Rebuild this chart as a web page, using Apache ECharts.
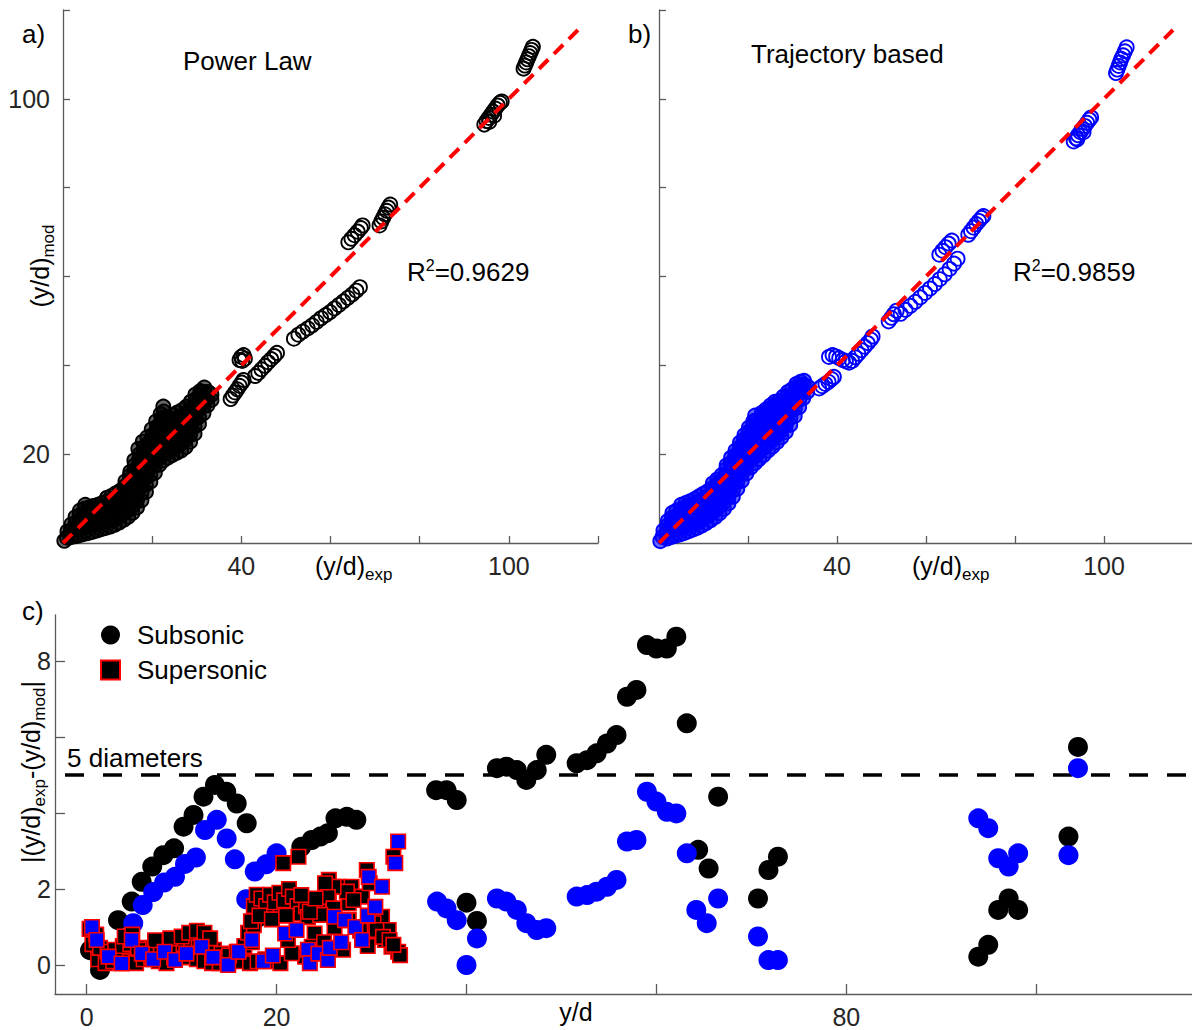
<!DOCTYPE html>
<html>
<head>
<meta charset="utf-8">
<title>Penetration model comparison</title>
<script src="https://cdn.jsdelivr.net/npm/echarts@6/dist/echarts.min.js"></script>
<style>
  html, body { margin: 0; padding: 0; background: #ffffff; }
  #chart { width: 1192px; height: 1030px; }
</style>
</head>
<body>
<div id="chart"></div>
<script>
// ---------- (a) power-law model: [(y/d)exp, (y/d)mod] ----------
const powerLawNear = [
  [0.3,0.5],[0.9,1.2],[1.0,2.6],
  [1.8,1.3],[1.8,2.8],[1.9,4.2],
  [2.7,1.5],[2.7,3.0],[2.8,4.5],[2.8,5.8],
  [3.6,1.7],[3.6,3.2],[3.7,4.7],[3.7,6.2],[3.8,7.3],
  [4.6,2.0],[4.6,3.5],[4.6,5.0],[4.7,6.5],[4.8,7.7],[5.0,8.6],
  [5.6,2.2],[5.6,3.7],[5.6,5.2],[5.7,6.7],[5.8,8.0],
  [6.6,2.5],[6.6,4.0],[6.6,5.5],[6.7,7.0],[6.8,8.3],
  [7.6,2.8],[7.6,4.3],[7.6,5.8],[7.7,7.3],[7.8,8.6],
  [8.6,3.1],[8.6,4.6],[8.6,6.1],[8.7,7.6],[8.8,9.0],
  [9.6,3.4],[9.6,4.9],[9.6,6.4],[9.7,7.9],[9.8,9.3],[9.9,10.2],
  [10.6,3.7],[10.6,5.2],[10.6,6.7],[10.7,8.2],[10.8,9.6],[10.9,10.6],
  [11.6,4.1],[11.6,5.6],[11.6,7.1],[11.7,8.6],[11.8,10.0],[11.9,11.2],
  [12.6,4.6],[12.6,6.1],[12.6,7.6],[12.7,9.1],[12.8,10.6],[12.9,11.8],
  [13.6,5.2],[13.6,6.7],[13.6,8.2],[13.7,9.8],[13.8,11.3],[13.9,12.8],[14.0,13.9],
  [14.6,5.9],[14.6,7.4],[14.6,9.0],[14.7,10.6],[14.8,12.2],[14.9,13.7],[15.0,15.1],[15.1,16.0],
  [15.6,6.8],[15.6,8.3],[15.6,9.9],[15.7,11.5],[15.8,13.1],[15.9,14.7],[16.0,16.3],[16.1,17.5],[16.0,18.6],
  [16.6,8.0],[16.6,9.6],[16.6,11.2],[16.7,12.8],[16.8,14.4],[16.9,16.0],[17.0,17.6],[17.1,19.0],[17.2,20.0],[16.9,21.2],
  [17.6,9.6],[17.6,11.2],[17.6,12.8],[17.7,14.4],[17.8,16.0],[17.9,17.6],[18.0,19.2],[18.1,20.6],[18.2,21.6],[17.9,22.8],
  [18.6,11.5],[18.6,13.1],[18.6,14.7],[18.7,16.3],[18.8,17.9],[18.9,19.5],[19.0,21.1],[19.1,22.4],[18.9,23.8],
  [19.6,13.8],[19.6,15.4],[19.6,17.0],[19.7,18.6],[19.8,20.2],[19.9,21.8],[20.0,23.3],[20.1,24.3],[19.9,25.6],
  [20.6,15.8],[20.6,17.4],[20.6,19.0],[20.7,20.6],[20.8,22.2],[20.9,23.8],[21.0,25.3],[21.1,26.2],[20.9,27.4],
  [21.6,17.6],[21.6,19.2],[21.6,20.8],[21.7,22.4],[21.8,24.0],[21.9,25.6],[22.0,27.0],[22.1,28.0],[21.9,29.0],
  [22.5,18.6],[22.5,20.2],[22.5,21.8],[22.6,23.4],[22.7,25.0],[22.8,26.6],[22.7,28.2],[22.6,29.6],[22.5,30.7],
  [23.5,19.2],[23.5,20.8],[23.5,22.4],[23.6,24.0],[23.7,25.6],[23.8,27.0],[23.6,28.3],
  [24.5,19.8],[24.5,21.4],[24.5,23.0],[24.6,24.6],[24.7,26.2],[24.8,27.6],[24.7,28.8],
  [25.5,20.3],[25.5,21.9],[25.5,23.5],[25.6,25.1],[25.7,26.7],[25.8,28.1],[25.7,29.4],
  [26.5,20.8],[26.5,22.4],[26.5,24.0],[26.6,25.6],[26.7,27.2],[26.8,28.6],[26.7,29.9],
  [27.5,21.6],[27.5,23.2],[27.5,24.8],[27.6,26.4],[27.7,28.0],[27.8,29.4],[27.7,30.7],
  [28.5,22.8],[28.5,24.4],[28.5,26.0],[28.6,27.6],[28.7,29.2],[28.8,30.6],[28.7,31.8],
  [29.5,24.6],[29.5,26.2],[29.5,27.8],[29.6,29.4],[29.7,31.0],[29.8,32.4],[29.7,33.4],
  [30.5,26.8],[30.5,28.4],[30.5,30.0],[30.6,31.6],[30.7,33.2],[30.8,34.2],
  [31.5,29.2],[31.5,30.8],[31.5,32.4],[31.6,34.0],[31.7,35.0],
  [32.4,31.0],[32.4,32.6],[32.5,34.0],
  [33.3,32.2],[33.3,33.4]
];
const powerLawFar = [
  [37.6,32.4],[38.1,33.2],[38.6,33.9],[39.1,34.6],[39.6,35.4],[40.1,36.1],[40.5,36.7],
  [39.6,41.2],[40.0,41.9],[40.5,42.3],[40.8,41.5],[40.2,41.0],
  [43.1,37.6],[43.8,38.3],[44.5,39.1],[45.3,39.9],[46.0,40.7],[46.7,41.4],[47.4,42.1],[48.0,42.8],
  [51.8,46.0],[52.8,46.9],[53.8,47.6],[54.9,48.3],[55.9,49.0],[56.9,49.8],[57.9,50.6],[58.9,51.3],
  [59.9,52.0],[60.9,52.8],[61.9,53.6],[62.9,54.4],[63.9,55.2],[64.9,56.0],[65.8,56.8],[66.6,57.6],
  [64.0,67.7],[64.7,68.5],[65.4,69.3],[66.1,70.1],[66.8,70.9],[67.2,71.5],
  [71.0,71.5],[71.4,72.4],[71.8,73.2],[72.2,74.0],[72.6,74.8],[73.0,75.5],[73.4,76.2],
  [94.5,94.2],[95.0,95.0],[95.5,95.7],[96.0,96.4],[96.5,97.1],[97.0,97.8],[97.5,98.5],[98.0,99.1],
  [98.4,99.4],[95.6,94.8],[96.7,96.2],
  [103.3,106.8],[103.6,107.5],[103.9,108.2],[104.2,108.9],[104.5,109.6],[104.8,110.3],[105.1,111.0],[105.4,111.7]
];

// ---------- (b) trajectory-based model ----------
const trajectoryNear = [
  [0.3,0.4],[0.8,1.4],[1.0,2.8],
  [1.8,1.0],[1.8,2.4],[1.9,3.9],[2.0,5.0],
  [2.7,1.3],[2.7,2.8],[2.8,4.3],[2.9,5.7],[3.0,6.8],
  [3.6,1.6],[3.6,3.1],[3.7,4.6],[3.8,6.0],[3.9,7.3],
  [4.6,1.9],[4.6,3.4],[4.7,4.9],[4.8,6.3],[4.9,7.6],[5.0,8.6],
  [5.6,2.2],[5.6,3.7],[5.7,5.2],[5.8,6.6],[5.9,8.0],[6.0,9.0],
  [6.6,2.6],[6.6,4.1],[6.7,5.6],[6.8,7.0],[6.9,8.4],[7.0,9.4],
  [7.6,3.0],[7.6,4.5],[7.7,6.0],[7.8,7.4],[7.9,8.8],[8.0,9.9],
  [8.6,3.4],[8.6,4.9],[8.7,6.4],[8.8,7.8],[8.9,9.3],[9.0,10.5],
  [9.6,3.9],[9.6,5.4],[9.7,6.9],[9.8,8.3],[9.9,9.8],[10.0,11.1],
  [10.6,4.5],[10.6,6.0],[10.7,7.5],[10.8,9.0],[10.9,10.4],[11.0,11.7],
  [11.6,5.1],[11.6,6.6],[11.7,8.1],[11.8,9.6],[11.9,11.0],[12.0,12.4],[12.1,13.4],
  [12.6,5.8],[12.6,7.3],[12.7,8.8],[12.8,10.3],[12.9,11.7],[13.0,13.1],[13.1,14.3],
  [13.6,6.7],[13.6,8.2],[13.7,9.7],[13.8,11.2],[13.9,12.6],[14.0,14.0],[14.1,15.3],
  [14.6,7.7],[14.6,9.2],[14.7,10.7],[14.8,12.2],[14.9,13.7],[15.0,15.2],[15.1,16.6],[15.2,17.5],
  [15.6,8.9],[15.6,10.4],[15.7,11.9],[15.8,13.4],[15.9,15.0],[16.0,16.5],[16.1,18.0],[16.2,19.2],
  [16.6,10.4],[16.6,11.9],[16.7,13.4],[16.8,15.0],[16.9,16.6],[17.0,18.2],[17.1,19.7],[17.2,20.8],
  [17.6,12.2],[17.6,13.7],[17.7,15.2],[17.8,16.8],[17.9,18.4],[18.0,20.0],[18.1,21.5],[18.2,22.6],
  [18.6,14.0],[18.6,15.5],[18.7,17.0],[18.8,18.6],[18.9,20.2],[19.0,21.8],[19.1,23.3],[19.2,24.3],
  [19.6,15.6],[19.6,17.1],[19.7,18.7],[19.8,20.3],[19.9,21.9],[20.0,23.5],[20.1,25.0],[20.2,26.0],
  [20.6,17.0],[20.6,18.6],[20.7,20.2],[20.8,21.8],[20.9,23.4],[21.0,25.0],[21.1,26.5],[21.2,27.4],
  [21.6,18.0],[21.6,19.6],[21.7,21.2],[21.8,22.8],[21.9,24.4],[22.0,26.0],[21.8,27.6],[21.6,28.7],
  [22.5,18.9],[22.5,20.5],[22.6,22.1],[22.7,23.7],[22.8,25.3],[22.9,26.9],[23.0,28.4],[23.1,29.3],
  [23.5,19.8],[23.5,21.4],[23.6,23.0],[23.7,24.6],[23.8,26.2],[23.9,27.8],[24.0,29.3],[24.1,30.1],
  [24.5,20.8],[24.5,22.4],[24.6,24.0],[24.7,25.6],[24.8,27.2],[24.9,28.8],[25.0,30.2],[25.1,31.0],
  [25.5,21.7],[25.5,23.3],[25.6,24.9],[25.7,26.5],[25.8,28.1],[25.9,29.7],[26.0,31.0],[26.1,31.8],
  [26.5,22.7],[26.5,24.3],[26.6,25.9],[26.7,27.5],[26.8,29.1],[26.9,30.7],[27.0,32.0],
  [27.5,23.8],[27.5,25.4],[27.6,27.0],[27.7,28.6],[27.8,30.2],[27.9,31.8],[28.0,33.0],
  [28.5,25.0],[28.5,26.6],[28.6,28.2],[28.7,29.8],[28.8,31.4],[28.9,33.0],[29.0,34.0],
  [29.5,26.6],[29.5,28.2],[29.6,29.8],[29.7,31.4],[29.8,33.0],[29.9,34.6],
  [30.5,28.6],[30.5,30.2],[30.6,31.8],[30.7,33.4],[30.8,35.0],[30.9,35.8],
  [31.5,30.6],[31.5,32.2],[31.6,33.8],[31.7,35.3],[31.8,36.3],
  [32.4,32.6],[32.4,34.2],[32.5,35.6],[32.6,36.5],
  [33.3,34.0],[33.4,35.2]
];
const trajectoryFar = [
  [36.0,34.8],[36.7,35.3],[37.4,35.8],[38.1,36.3],[38.8,36.9],[39.3,37.4],
  [38.2,41.9],[39.0,42.3],[39.8,42.0],[40.5,41.6],[41.3,41.2],[42.0,40.9],[42.7,40.6],
  [43.4,41.0],[44.1,41.8],[44.8,42.6],[45.5,43.4],[46.2,44.2],[46.9,45.0],[47.6,45.8],[48.0,46.5],
  [51.6,49.9],[52.2,50.7],[52.8,51.5],[53.4,52.3],
  [54.3,51.6],[55.4,52.5],[56.5,53.4],[57.6,54.3],[58.7,55.3],[59.8,56.3],[60.9,57.3],
  [62.0,58.3],[63.1,59.4],[64.2,60.5],[65.3,61.7],[66.3,62.9],[67.1,64.0],
  [63.0,64.9],[63.7,65.8],[64.4,66.6],[65.1,67.4],[65.8,68.1],
  [69.5,69.4],[70.1,70.2],[70.7,71.0],[71.3,71.8],[71.9,72.5],[72.5,73.2],[72.9,73.6],
  [93.2,90.4],[93.7,91.1],[94.2,91.8],[94.7,92.5],[95.2,93.2],[95.7,93.9],[96.2,94.6],[96.7,95.3],
  [97.1,95.8],[94.0,90.9],[95.4,92.5],
  [102.7,105.8],[103.0,106.6],[103.3,107.4],[103.6,108.2],[103.9,109.0],[104.3,109.8],[104.7,110.7],[105.1,111.6]
];

// perfect-agreement reference line y = x
const parityLine = [[0, 0], [115.5, 115.5]];

// ---------- (c) absolute error vs y/d ----------
const subsonicPowerLaw = [
  [0.35,0.39],[1.4,-0.13],[3.3,1.18],[4.74,1.67],[5.79,2.19],[6.9,2.59],[8.07,2.89],[9.2,3.07],
  [10.2,3.64],[11.25,3.95],[12.3,4.43],[13.5,4.74],[14.7,4.56],[15.8,4.25],[16.85,3.73],
  [17.9,1.23],[18.5,1.3],[19.9,1.35],
  [22.6,3.11],[23.7,3.29],[24.6,3.38],[25.4,3.47],[26.2,3.86],[27.4,3.9],[28.4,3.82],
  [36.8,4.6],[37.9,4.6],[38.97,4.34],[40.0,1.64],[41.1,1.16],
  [43.2,5.18],[44.2,5.22],[45.3,5.13],[46.3,4.87],[47.4,5.13],[48.4,5.53],
  [51.6,5.31],[52.7,5.39],[53.7,5.57],[54.8,5.83],[55.8,6.05],[56.9,7.06],[57.9,7.24],
  [59.0,8.42],[60.0,8.33],[61.1,8.33],[62.1,8.64],[63.2,6.36],[64.4,3.03],[65.5,2.54],[66.5,4.43],
  [70.7,1.75],[71.8,2.5],[72.8,2.85],
  [93.9,0.22],[94.95,0.53],[96.0,1.45],[97.1,1.75],[98.1,1.45],[103.4,3.38],[104.4,5.74]
];
const subsonicTrajectory = [
  [4.9,1.1],[5.9,1.58],[7.0,1.92],[8.15,2.17],[9.3,2.32],[10.35,2.66],[11.5,2.83],
  [12.46,3.55],[13.7,3.82],[14.74,3.33],[15.6,2.78],[16.8,1.73],[17.7,2.46],[18.9,2.65],[20.0,2.94],
  [36.9,1.67],[37.9,1.49],[38.97,1.18],[40.0,0.0],[41.1,0.7],
  [43.2,1.75],[44.2,1.67],[45.3,1.45],[46.3,1.1],[47.4,0.92],[48.4,0.97],
  [51.6,1.8],[52.7,1.84],[53.7,1.93],[54.8,2.06],[55.8,2.24],[56.9,3.25],[57.9,3.29],
  [59.0,4.56],[60.0,4.3],[61.1,4.03],[62.1,3.99],[63.2,2.94],[64.2,1.45],[65.3,1.1],[66.5,1.75],
  [70.7,0.75],[71.8,0.13],[72.8,0.13],
  [93.9,3.86],[94.95,3.6],[96.0,2.81],[97.1,2.59],[98.1,2.94],[103.4,2.89],[104.4,5.18]
];
const supersonicPowerLaw = [
  [1.2,0.15],[2.0,0.05],[2.8,0.1],[3.6,0.2],[4.4,0.1],[5.2,0.05],[6.0,0.15],[6.8,0.2],[7.6,0.1],
  [8.4,0.05],[9.2,0.2],[10.0,0.25],[10.8,0.2],[11.6,0.15],[12.4,0.1],[13.2,0.05],[14.0,0.05],
  [14.8,0.1],[15.6,0.15],[16.4,0.1],[17.2,0.05],[18.0,0.1],[18.8,0.15],[19.6,0.1],[20.4,0.05],
  [0.6,0.55],[1.4,0.45],[2.2,0.35],[3.0,0.4],[3.8,0.5],[4.6,0.55],[5.4,0.45],[6.2,0.4],[7.0,0.45],
  [7.8,0.5],[8.6,0.45],[9.4,0.5],[10.2,0.55],[11.0,0.6],[11.8,0.65],[12.6,0.55],[13.4,0.4],
  [14.2,0.3],[15.0,0.25],[15.8,0.35],[16.6,0.5],[17.4,0.6],
  [0.3,0.95],[1.0,0.8],[4.0,0.75],[4.8,0.8],[7.2,0.65],[8.8,0.7],[10.0,0.75],[10.8,0.85],
  [11.6,0.9],[12.4,0.85],[13.0,0.7],[17.0,0.85],[17.6,1.05],
  [17.3,1.15],[17.6,1.55],[17.9,1.85],[18.4,1.75],[18.9,1.55],[19.3,1.85],[19.8,1.65],[20.3,1.9],
  [20.8,1.7],[21.3,2.0],[21.7,1.8],[22.2,1.55],[22.6,1.35],[23.1,1.55],[18.2,1.3],[19.5,1.2],
  [21.0,1.3],[20.7,2.68],[22.3,2.85],
  [25.5,2.24],[26.5,2.06],[27.9,2.06],[27.6,1.62],[25.5,1.75],[24.4,1.45],[23.3,1.26],[24.0,0.83],
  [26.1,1.0],[27.6,1.18],[29.0,1.8],[31.1,1.27],[31.8,0.92],[31.4,0.66],[32.1,0.48],[32.8,0.35],
  [33.0,0.26],[30.4,0.75],[23.7,0.48],[23.0,0.22],[21.6,0.31],[21.2,0.66],[29.5,2.5],[32.3,2.85],
  [29.8,2.15],[27.4,1.93],[26.0,2.06],[25.1,2.15],[25.4,1.79],[26.0,1.49],[28.1,1.71],[30.2,1.1],
  [30.5,0.92],[31.2,0.74],[31.9,0.66],[32.3,0.53],[24.6,1.32],[23.5,1.4],[24.1,1.75],[22.6,1.84],
  [28.8,0.9],[29.6,0.5],[27.0,0.4],[25.0,0.6]
];
const supersonicTrajectory = [
  [0.55,1.0],[1.05,0.66],[2.3,0.22],[3.68,0.04],[4.74,0.66],[5.8,0.3],[7.0,0.15],[8.2,0.35],
  [9.3,0.13],[10.5,0.3],[12.1,0.48],[13.3,0.2],[14.9,0.0],[16.0,0.35],[17.4,0.66],[18.6,0.1],
  [19.6,0.25],[20.9,0.83],[22.1,0.92],[23.3,0.4],[23.5,0.05],[24.4,0.3],[25.4,0.13],[25.6,0.45],
  [26.1,1.27],[26.8,0.6],[27.2,1.18],[28.3,1.0],[29.0,0.66],[29.6,1.3],[30.4,1.53],[29.7,2.32],
  [31.1,2.06],[32.5,2.68],[32.8,3.25]
];
const diameterLimit = 5;

// axis ticks and the tick labels that are printed
const scatterTickStep = 20;
const xLabelsParity = [40, 100];
const yLabelsPowerLaw = [20, 100];
const errorXTicks = [0, 20, 40, 60, 80, 100];
const errorXLabels = [0, 20, 80];
const errorYTicks = [0, 2, 4, 6, 8];
const errorYLabels = [0, 2, 8];
const errorXRange = [-3.34, 116.41];
const errorYRange = [-0.763, 9.211];

// ---------- styling ----------
const FONT = "'Liberation Sans', Arial, Helvetica, sans-serif";
const AXIS_COLOR = '#5a5a5a';
const TICK_TEXT = '#262626';
const BLUE = '#0000ff';
const RED = '#ff0000';

const axisLine = { show: true, onZero: false, lineStyle: { color: AXIS_COLOR, width: 1.3 } };
const tick = len => ({ show: true, inside: true, length: len, lineStyle: { color: AXIS_COLOR, width: 1.3 } });
const tickText = (list, margin) => ({
  show: true, color: TICK_TEXT, fontSize: 25, fontFamily: FONT, margin,
  formatter: v => (list.indexOf(v) >= 0 ? String(v) : '')
});
const noSplit = { show: false };

function parityAxis(grid, labelList, margin) {
  return {
    gridIndex: grid, type: 'value', min: 0, max: 120, interval: scatterTickStep,
    axisLine, axisTick: tick(7), splitLine: noSplit,
    axisLabel: labelList ? tickText(labelList, margin) : { show: false }
  };
}

// open circles; the crowded low-range groups get a tint so overlaps build up solid
const rings = (data, color, xi, tint) => ({
  type: 'scatter', xAxisIndex: xi, yAxisIndex: xi, data,
  symbol: 'circle', symbolSize: 14, silent: true,
  itemStyle: { color: tint || 'rgba(0,0,0,0)', borderColor: color, borderWidth: 1.9, opacity: 1 },
  z: 2
});

const parity = xi => ({
  type: 'line', xAxisIndex: xi, yAxisIndex: xi, data: parityLine,
  symbol: 'none', silent: true,
  lineStyle: { color: RED, width: 4, type: [13, 8], opacity: 1 }, z: 5
});

const subStyle = { fontSize: 17, fontFamily: FONT, fill: '#000', padding: [16, 0, 0, 0] };
const supStyle = { fontSize: 16, fontFamily: FONT, fill: '#000', padding: [0, 0, 14, 0] };

function label(text, x, y, opts) {
  opts = opts || {};
  return {
    type: 'text', x, y, rotation: opts.rotation || 0, z: 100, silent: true,
    style: {
      text, fontSize: opts.size || 26, fontFamily: FONT, fill: '#000',
      align: opts.align || 'left', verticalAlign: 'middle',
      rich: { s: subStyle, p: supStyle }
    }
  };
}

const dot = (name, data, color, z) => ({
  name, type: 'scatter', xAxisIndex: 2, yAxisIndex: 2, data,
  symbol: 'circle', symbolSize: 20, silent: true, z,
  itemStyle: { color, opacity: 1 }
});
const box = (name, data, color, z) => ({
  name, type: 'scatter', xAxisIndex: 2, yAxisIndex: 2, data,
  symbol: 'rect', symbolSize: 14.5, silent: true, z,
  itemStyle: { color, borderColor: RED, borderWidth: 1.6, opacity: 1 }
});

const option = {
  animation: false,
  backgroundColor: '#ffffff',
  grid: [
    { left: 63, top: 10, width: 535, height: 533, outerBoundsMode: 'none' },
    { left: 659, top: 10, width: 534, height: 533, outerBoundsMode: 'none' },
    { left: 55, top: 615, width: 1137, height: 379, outerBoundsMode: 'none' }
  ],
  xAxis: [
    parityAxis(0, xLabelsParity, 10),
    parityAxis(1, xLabelsParity, 10),
    {
      gridIndex: 2, type: 'value', min: errorXRange[0], max: errorXRange[1],
      axisLine, splitLine: noSplit,
      axisTick: Object.assign(tick(10), { customValues: errorXTicks }),
      axisLabel: { color: TICK_TEXT, fontSize: 25, fontFamily: FONT, margin: 10, customValues: errorXLabels }
    }
  ],
  yAxis: [
    parityAxis(0, yLabelsPowerLaw, 13),
    parityAxis(1, null),
    {
      gridIndex: 2, type: 'value', min: errorYRange[0], max: errorYRange[1],
      axisLine, splitLine: noSplit,
      axisTick: Object.assign(tick(10), { customValues: errorYTicks }),
      axisLabel: { color: TICK_TEXT, fontSize: 25, fontFamily: FONT, margin: 4, customValues: errorYLabels }
    }
  ],
  legend: {
    orient: 'vertical', left: 100, top: 622, padding: 0,
    itemWidth: 19, itemHeight: 19, itemGap: 9, selectedMode: false,
    textStyle: { fontSize: 26, fontFamily: FONT, color: '#000', padding: [0, 0, 0, 12] },
    data: [
      { name: 'Subsonic', icon: 'circle', itemStyle: { color: '#000', borderWidth: 0, opacity: 1 } },
      { name: 'Supersonic', icon: 'rect', itemStyle: { color: '#000', borderColor: RED, borderWidth: 2, opacity: 1 } }
    ]
  },
  series: [
    rings(powerLawNear, '#000', 0, 'rgba(0,0,0,0.6)'),
    rings(powerLawFar, '#000', 0),
    parity(0),
    rings(trajectoryNear, BLUE, 1, 'rgba(0,0,255,0.6)'),
    rings(trajectoryFar, BLUE, 1),
    parity(1),
    {
      name: '5 diameters', type: 'line', xAxisIndex: 2, yAxisIndex: 2,
      data: [[errorXRange[0], diameterLimit], [errorXRange[1], diameterLimit]],
      symbol: 'none', silent: true, z: 1,
      lineStyle: { color: '#000', width: 3.5, type: [19, 19], dashOffset: -10, opacity: 1 }
    },
    dot('Subsonic', subsonicPowerLaw, '#000', 2),
    dot('Subsonic (trajectory based)', subsonicTrajectory, BLUE, 3),
    box('Supersonic', supersonicPowerLaw, '#000', 4),
    box('Supersonic (trajectory based)', supersonicTrajectory, BLUE, 5)
  ],
  graphic: [
    label('a)', 22, 34),
    label('b)', 628, 34),
    label('c)', 22, 611),
    label('Power Law', 183, 61),
    label('Trajectory based', 751, 54),
    label('R{p|2}=0.9629', 407, 272),
    label('R{p|2}=0.9859', 1013, 272),
    label('(y/d){s|exp}', 315, 566, { size: 25 }),
    label('(y/d){s|exp}', 912, 566, { size: 25 }),
    label('(y/d){s|mod}', 40, 266, { size: 25, align: 'center', rotation: Math.PI / 2 }),
    label('|(y/d){s|exp}-(y/d){s|mod}|', 31, 772, { size: 25, align: 'center', rotation: Math.PI / 2 }),
    label('y/d', 576, 1012, { size: 25, align: 'center' }),
    label('5 diameters', 67, 758)
  ]
};

const chart = echarts.init(document.getElementById('chart'), null, { renderer: 'svg' });
chart.setOption(option);
</script>
</body>
</html>
